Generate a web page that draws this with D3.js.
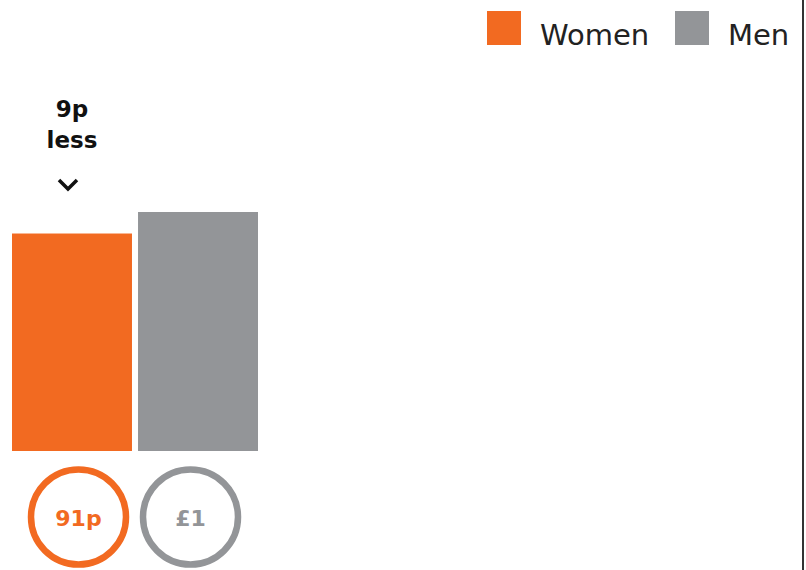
<!DOCTYPE html>
<html>
<head>
<meta charset="utf-8">
<script src="https://cdn.jsdelivr.net/npm/d3@7"></script>
<style>
  body { margin: 0; background: #fff; }
  svg { display: block; }
</style>
</head>
<body>
<div id="main"></div>
<script>
"use strict";

// chart data
var categories = ["Women", "Men"];
var values = [91, 100];
var valueLabels = ["91p", "£1"];
var colors = ["#f26a21", "#939598"];
var gapLabel = ["9p", "less"];

var W = 806, H = 570;

var svg = d3.select("#main").append("svg")
  .attr("width", W)
  .attr("height", H);

var x = d3.scaleBand()
  .domain(categories)
  .range([12, 258])
  .paddingInner(0.048);

var y = d3.scaleLinear()
  .domain([0, 100])
  .range([451, 212]);

var xc = d3.scalePoint()
  .domain(categories)
  .range([78.5, 190.5]);

var color = d3.scaleOrdinal().domain(categories).range(colors);

// bars
svg.selectAll("rect.bar")
  .data(categories)
  .enter().append("rect")
  .attr("class", "bar")
  .attr("x", function(d) { return x(d); })
  .attr("y", function(d, i) { return y(values[i]); })
  .attr("width", x.bandwidth())
  .attr("height", function(d, i) { return y(0) - y(values[i]); })
  .attr("fill", function(d) { return color(d); });

// circles with value labels
categories.forEach(function(c, i) {
  svg.append("circle")
    .attr("cx", xc(c))
    .attr("cy", 517)
    .attr("r", 47.5)
    .attr("fill", "#fff")
    .attr("stroke", color(c))
    .attr("stroke-width", 6.5);
  svg.append("text")
    .attr("x", xc(c))
    .attr("y", 526)
    .attr("text-anchor", "middle")
    .attr("font-family", "DejaVu Sans, Verdana, sans-serif")
    .attr("font-weight", "bold")
    .attr("font-size", 22)
    .attr("fill", color(c))
    .text(valueLabels[i]);
});

// gap annotation above women bar
var ax = x(categories[0]) + x.bandwidth() / 2;
gapLabel.forEach(function(t, i) {
  svg.append("text")
    .attr("x", ax)
    .attr("y", 117 + i * 31)
    .attr("text-anchor", "middle")
    .attr("font-family", "DejaVu Sans, Verdana, sans-serif")
    .attr("font-weight", "bold")
    .attr("font-size", 23)
    .attr("fill", "#111")
    .text(t);
});
svg.append("path")
  .attr("d", d3.line()([[ax - 13, 180], [ax - 4, 189], [ax + 5, 180]]))
  .attr("fill", "none")
  .attr("stroke", "#111")
  .attr("stroke-width", 3.5);

// legend
var legend = [
  { name: categories[0], x: 487, tx: 540 },
  { name: categories[1], x: 675, tx: 728 }
];
legend.forEach(function(l) {
  svg.append("rect")
    .attr("x", l.x)
    .attr("y", 11)
    .attr("width", 34)
    .attr("height", 34)
    .attr("fill", color(l.name));
  svg.append("text")
    .attr("x", l.tx)
    .attr("y", 45)
    .attr("font-family", "DejaVu Sans, Verdana, sans-serif")
    .attr("font-size", 29)
    .attr("fill", "#222")
    .text(l.name);
});

// right border line
svg.append("line")
  .attr("x1", 803).attr("x2", 803)
  .attr("y1", 0).attr("y2", H)
  .attr("stroke", "#333")
  .attr("stroke-width", 2);
</script>
</body>
</html>
